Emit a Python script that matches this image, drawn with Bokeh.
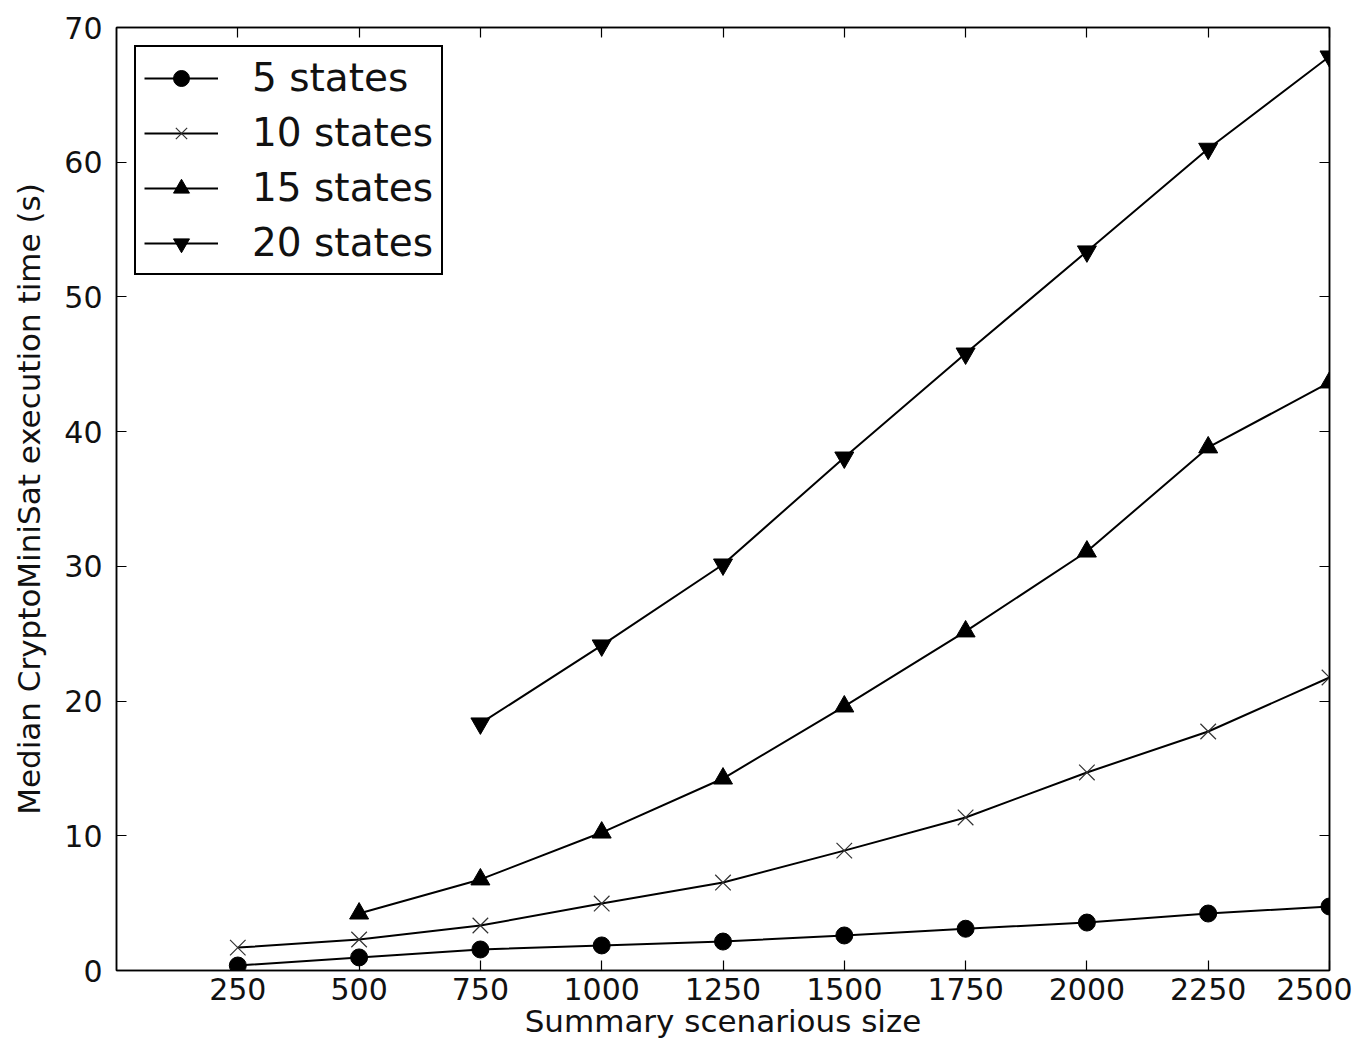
from bokeh.plotting import figure
from bokeh.models import LinearAxis, FixedTicker, Range1d, Legend, LegendItem
from bokeh.embed import file_html
from bokeh.resources import INLINE

sizes = [250, 500, 750, 1000, 1250, 1500, 1750, 2000, 2250, 2500]
states5 = [0.37, 0.97, 1.56, 1.86, 2.15, 2.6, 3.1, 3.56, 4.23, 4.75]
states10 = [1.7, 2.3, 3.34, 4.97, 6.53, 8.9, 11.36, 14.7, 17.74, 21.75]
sizes15 = [500, 750, 1000, 1250, 1500, 1750, 2000, 2250, 2500]
states15 = [4.23, 6.76, 10.24, 14.25, 19.6, 25.17, 31.1, 38.83, 43.65]
sizes20 = [750, 1000, 1250, 1500, 1750, 2000, 2250, 2500]
states20 = [18.34, 24.13, 30.14, 38.08, 45.8, 53.38, 61.0, 67.85]
x_ticks = [250, 500, 750, 1000, 1250, 1500, 1750, 2000, 2250, 2500]
y_ticks = [0, 10, 20, 30, 40, 50, 60, 70]

FONT = "DejaVu Sans"
W, H = 1352, 1046

p = figure(width=W, height=H, output_backend="svg", toolbar_location=None,
           x_range=Range1d(0, 2500), y_range=Range1d(0, 70),
           min_border_left=116, min_border_right=W - 1329,
           min_border_top=27, min_border_bottom=H - 970)
p.grid.visible = False
p.outline_line_color = "black"
p.outline_line_width = 1.5
p.background_fill_color = "white"
p.border_fill_color = "white"

def style_axis(ax, ticks, labels=True):
    ax.ticker = FixedTicker(ticks=ticks)
    ax.major_tick_in = 10
    ax.major_tick_out = 0
    ax.minor_tick_line_color = None
    ax.major_tick_line_color = "black"
    ax.major_tick_line_width = 1.2
    ax.axis_line_color = "black"
    ax.axis_line_width = 1.5
    ax.major_label_text_font = FONT
    ax.major_label_text_font_size = "30px"
    ax.major_label_text_color = "#111111" if labels else None
    ax.axis_label_text_font = FONT
    ax.axis_label_text_font_size = "31px"
    ax.axis_label_text_font_style = "normal"
    ax.axis_label_text_color = "#111111"

style_axis(p.xaxis[0], x_ticks)
style_axis(p.yaxis[0], y_ticks)
p.xaxis[0].axis_label = "Summary scenarious size"
p.yaxis[0].axis_label = "Median CryptoMiniSat execution time (s)"
p.xaxis[0].major_label_standoff = 7
p.yaxis[0].major_label_standoff = 14
p.xaxis[0].axis_label_standoff = 0
p.yaxis[0].axis_label_standoff = 14

top = LinearAxis()
style_axis(top, x_ticks, labels=False)
top.major_label_text_font_size = "0px"
p.add_layout(top, "above")
right = LinearAxis()
style_axis(right, y_ticks, labels=False)
right.major_label_text_font_size = "0px"
p.add_layout(right, "right")

items = []
l1 = p.line(sizes, states5, line_color="black", line_width=2)
m1 = p.scatter(sizes, states5, marker="circle", size=17, fill_color="black", line_color="black")
items.append(LegendItem(label="5 states", renderers=[l1, m1]))

l2 = p.line(sizes, states10, line_color="black", line_width=2)
m2 = p.scatter(sizes, states10, marker="x", size=22, line_color="#333333", line_width=1.2)
items.append(LegendItem(label="10 states", renderers=[l2, m2]))

l3 = p.line(sizes15, states15, line_color="black", line_width=2)
m3 = p.scatter(sizes15, states15, marker="triangle", size=19, fill_color="black", line_color="black")
items.append(LegendItem(label="15 states", renderers=[l3, m3]))

l4 = p.line(sizes20, states20, line_color="black", line_width=2)
m4 = p.scatter(sizes20, states20, marker="inverted_triangle", size=19, fill_color="black", line_color="black")
items.append(LegendItem(label="20 states", renderers=[l4, m4]))

legend = Legend(items=items, location="top_left", margin=18, padding=8,
                glyph_width=74, glyph_height=40, label_height=40, spacing=10,
                label_standoff=34, label_text_font=FONT, label_text_font_size="39px",
                label_text_color="#111111",
                border_line_color="black", border_line_width=2.5, border_line_alpha=1,
                background_fill_color="white", background_fill_alpha=1)
p.add_layout(legend, "center")

open("out.html", "w").write(file_html(p, INLINE))
